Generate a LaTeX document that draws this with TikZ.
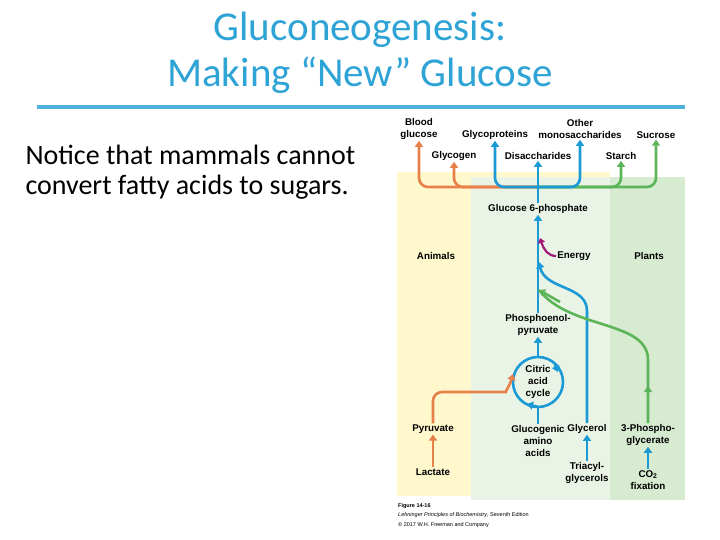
\documentclass[tikz,border=0pt]{standalone}
\usepackage{fontspec}
\setmainfont{Carlito}
\newfontfamily\figfont{Liberation Sans}
\usetikzlibrary{arrows.meta}
\definecolor{ttl}{HTML}{2EA3D5}
\definecolor{orng}{HTML}{E8804A}
\definecolor{blu}{HTML}{1B9AD6}
\definecolor{grn}{HTML}{5DB55A}
\definecolor{mag}{HTML}{A3197A}
\definecolor{ylw}{HTML}{FFF8CC}
\definecolor{lgrn}{HTML}{EAF4E6}
\definecolor{dgrn}{HTML}{D6EBD0}
\tikzset{
 lbl/.style={font=\figfont\bfseries\fontsize{9.8}{12}\selectfont,align=center,inner sep=1pt},
 flow/.style={line width=2.6pt,-{Triangle[length=6pt,width=8pt]},rounded corners=9pt},
 ah/.style={line width=2.6pt,-{Triangle[length=6pt,width=8pt]}},
}
\begin{document}
\begin{tikzpicture}[x=1pt,y=-1pt]
\useasboundingbox (0,0) rectangle (720,540);
\fill[white] (0,0) rectangle (720,540);
% title
\node[text=ttl,font=\fontsize{41}{46}\selectfont] (t1) at (360,30) {Gluconeogenesis:};
\node[text=ttl,font=\fontsize{41}{46}\selectfont] (t2) at (360,75) {Making “New” Glucose};
\draw[ttl!85,line width=4pt] (37,107) -- (685,107);
\node[anchor=west,font=\fontsize{28}{30}\selectfont,align=left] (note) at (22,172) {Notice that mammals cannot\\convert fatty acids to sugars.};
% panels
\fill[ylw] (397,172) rectangle (610,496);
\fill[lgrn] (471,177) rectangle (685,500);
\fill[dgrn] (610,177) rectangle (685,500);
% labels
\node[lbl] (bg) at (419,129) {Blood\\glucose};
\node[lbl] (gp) at (495,135) {Glycoproteins};
\node[lbl] (om) at (580,129) {Other\\monosaccharides};
\node[lbl] (su) at (656,135) {Sucrose};
\node[lbl] (gy) at (454,156) {Glycogen};
\node[lbl] (di) at (538,156) {Disaccharides};
\node[lbl] (st) at (621,156) {Starch};
\node[lbl] (g6) at (538,209) {Glucose 6-phosphate};
\node[lbl] (en) at (574,256) {Energy};
\node[lbl] (an) at (436,256) {Animals};
\node[lbl] (pl) at (649,256) {Plants};
\node[lbl] (pep) at (538,325) {Phosphoenol-\\pyruvate};
\node[lbl] (cac) at (538,382) {Citric\\acid\\cycle};
\node[lbl] (py) at (433,429) {Pyruvate};
\node[lbl] (la) at (433,472) {Lactate};
\node[lbl] (ga) at (538,441) {Glucogenic\\amino\\acids};
\node[lbl] (gl) at (587,429) {Glycerol};
\node[lbl] (tg) at (587,473) {Triacyl-\\glycerols};
\node[lbl] (pg) at (648,435) {3-Phospho-\\glycerate};
\node[lbl] (co) at (648,480) {CO\textsubscript{2}\\fixation};
\node[anchor=north west,align=left,inner sep=0pt,font=\figfont\fontsize{5.5}{9.5}\selectfont] (cap) at (398,503) {\textbf{Figure 14-16}\\\textit{Lehninger Principles of Biochemistry}, Seventh Edition\\© 2017 W.H. Freeman and Company};
% junction
\coordinate (j) at (538,187);
\coordinate (jl) at (539,262);
\coordinate (jg) at (539,290);
\draw[flow,orng] (j) -- (419,187) -- (bg.south);
\draw[flow,orng] (j) -- (454,187) -- (gy.south);
\draw[flow,grn] (j) -- (656,187) -- (su.south);
\draw[flow,grn] (j) -- (621,187) -- (st.south);
\draw[flow,blu] (j) -- (495,187) -- (gp.south);
\draw[flow,blu] (j) -- (580,187) -- (om.south);
\draw[flow,blu] (g6.north) -- (di.south);
\draw[flow,blu] (pep.north) -- (g6.south);
% glycerol and green curves
\draw[flow,blu] (gl.north) -- (587,320) .. controls (587,285) and (545,290) .. (jl);
\draw[line width=2.6pt,grn] (pg.north) -- (648,360) .. controls (648,320) and (570,330) .. (jg);
\draw[ah,grn] (648,400) -- (648,386);
\draw[ah,grn] (560,302) -- (jg);
% energy
\draw[mag,line width=2.2pt,-{Triangle[length=5pt,width=7pt]}] (en.west) .. controls (548,256) and (544,250) .. (540,238);
% citric acid cycle
\draw[blu,line width=2.6pt] (cac.center) circle (25);
\draw[ah,blu] (555,365) -- (558,372);
\draw[ah,blu] (538,407) -- (527,404);
\draw[flow,blu] (538,357) -- (pep.south);
\draw[blu,line width=2.6pt] (ga.north) -- (538,407);
\draw[flow,orng] (py.north) -- (433,392) -- (497,392) .. controls (505,392) and (510,385) .. (513,374);
\draw[flow,orng] (la.north) -- (py.south);
\draw[flow,blu] (tg.north) -- (gl.south);
\draw[flow,blu] (co.north) -- (pg.south);
\end{tikzpicture}
\end{document}
